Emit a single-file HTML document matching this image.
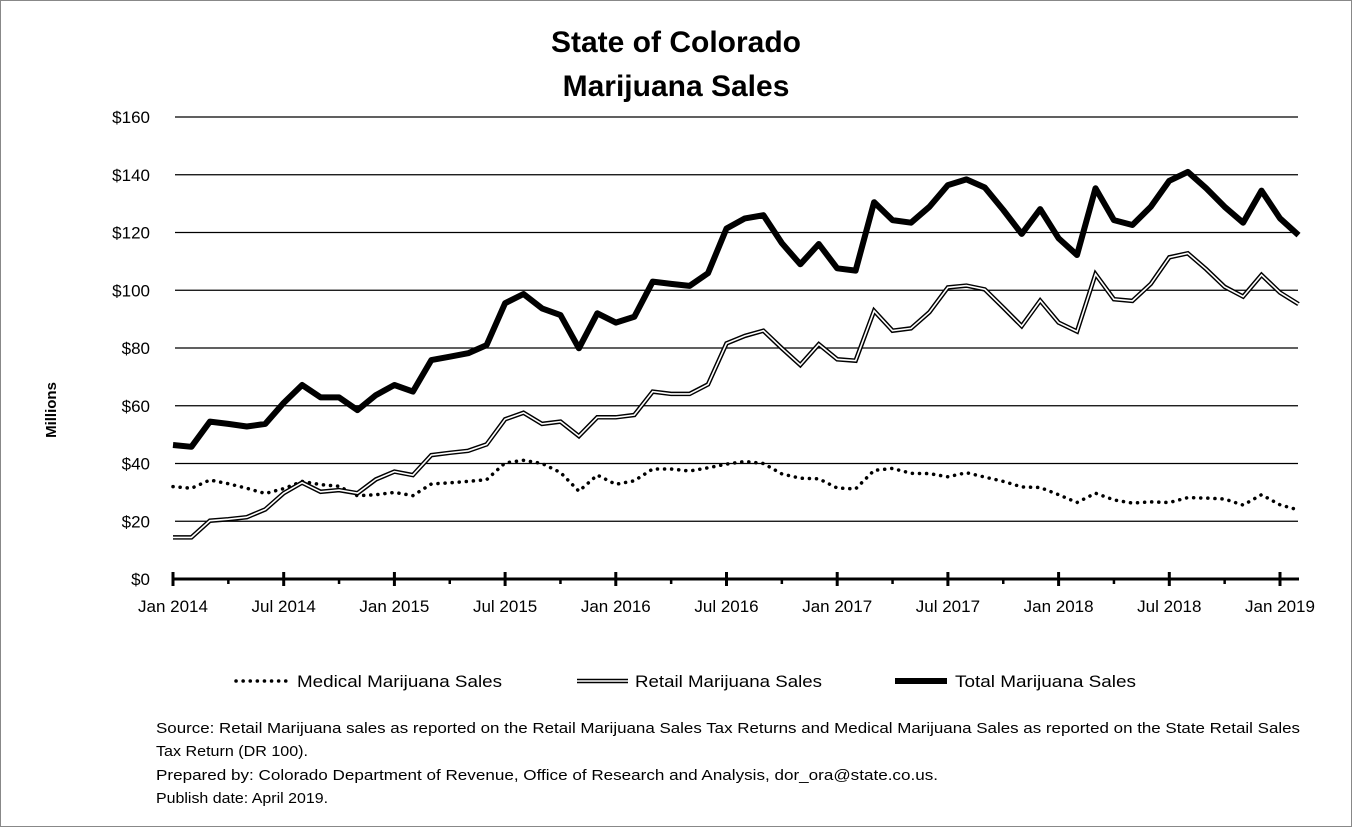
<!DOCTYPE html>
<html><head><meta charset="utf-8"><style>
html,body{margin:0;padding:0;background:#fff}
svg{display:block}
text{font-family:"Liberation Sans",sans-serif;fill:#000}
</style></head><body>
<svg id="c" width="1352" height="827" viewBox="0 0 1352 827" xmlns="http://www.w3.org/2000/svg">
<rect x="0.5" y="0.5" width="1351" height="826" fill="#fff" stroke="#888" stroke-width="1"/>
<text x="676" y="52" font-size="30" font-weight="bold" text-anchor="middle">State of Colorado</text>
<text x="676" y="96" font-size="30" font-weight="bold" text-anchor="middle">Marijuana Sales</text>
<g id="grid" stroke="#000" stroke-width="1.2"></g>
<g id="ylab" font-size="17" text-anchor="end"></g>
<text transform="translate(56,410) rotate(-90)" font-size="15" font-weight="bold" text-anchor="middle">Millions</text>
<g id="ser"></g>
<g id="xlab" font-size="17" text-anchor="middle"></g>
<g font-size="17">
<line x1="236" y1="681" x2="290" y2="681" stroke="#000" stroke-width="3.5" stroke-linecap="round" stroke-dasharray="0.1 7"/>
<text x="297" y="687" textLength="205" lengthAdjust="spacingAndGlyphs">Medical Marijuana Sales</text>
<line x1="577" y1="681" x2="628" y2="681" stroke="#000" stroke-width="4.5"/>
<line x1="577" y1="681" x2="628" y2="681" stroke="#fff" stroke-width="1.6"/>
<text x="635" y="687" textLength="187" lengthAdjust="spacingAndGlyphs">Retail Marijuana Sales</text>
<line x1="895" y1="681" x2="947" y2="681" stroke="#000" stroke-width="6"/>
<text x="955" y="687" textLength="181" lengthAdjust="spacingAndGlyphs">Total Marijuana Sales</text>
</g>
<g font-size="15">
<text x="156" y="733" textLength="1144" lengthAdjust="spacingAndGlyphs">Source: Retail Marijuana sales as reported on the Retail Marijuana Sales Tax Returns and Medical Marijuana Sales as reported on the State Retail Sales</text>
<text x="156" y="756" textLength="152" lengthAdjust="spacingAndGlyphs">Tax Return (DR 100).</text>
<text x="156" y="780" textLength="782" lengthAdjust="spacingAndGlyphs">Prepared by: Colorado Department of Revenue, Office of Research and Analysis, dor_ora@state.co.us.</text>
<text x="156" y="803" textLength="172" lengthAdjust="spacingAndGlyphs">Publish date: April 2019.</text>
</g>
</svg>
<script>
var NS="http://www.w3.org/2000/svg";
function el(p,t,a,txt){var e=document.createElementNS(NS,t);for(var k in a)e.setAttribute(k,a[k]);if(txt!=null)e.textContent=txt;p.appendChild(e);return e;}
var X0=173,DX=18.45,Y0=579,K=2.8875;
function X(i){return X0+DX*i}function Y(v){return Y0-v*K}
var grid=document.getElementById('grid'),yl=document.getElementById('ylab'),xl=document.getElementById('xlab'),ser=document.getElementById('ser');
for(var v=20;v<=160;v+=20){el(grid,'line',{x1:175,x2:1298,y1:Y(v),y2:Y(v)});}
for(var v=0;v<=160;v+=20){el(yl,'text',{x:150,y:Y(v)+6},'$'+v);}
var total=[46.4,45.8,54.5,53.7,52.8,53.7,61,67.2,62.9,62.9,58.5,63.7,67.2,64.9,75.8,77,78.2,81,95.5,98.7,93.7,91.4,79.9,92,88.8,90.8,103,102.2,101.5,105.9,121.4,124.9,126,116.3,109,116,107.6,106.8,130.5,124.3,123.4,128.9,136.4,138.4,135.6,127.8,119.5,128.1,118,112.2,135.3,124.3,122.6,128.9,137.9,141,135.3,128.9,123.4,134.5,124.9,119.1];
var retail=[14.4,14.4,20.2,20.7,21.4,24.1,29.7,33.4,30.2,30.8,29.7,34.5,37.2,36,42.9,43.7,44.4,46.6,55.3,57.6,53.7,54.5,49.5,56,56,56.8,64.9,64.1,64.1,67.4,81.6,84.2,86,79.9,74.1,81.3,76.1,75.6,92.9,86,86.8,92.4,101,101.6,100.3,94,87.6,96.4,88.8,85.7,105.6,96.9,96.3,102.2,111.4,112.8,107.3,101.2,97.8,105.3,99.2,95.2];
function pts(a){return a.map(function(v,i){return X(i).toFixed(1)+','+Y(v).toFixed(1)}).join(' ')}
var med=total.map(function(t,i){return t-retail[i]});
el(ser,'polyline',{points:pts(med),fill:'none',stroke:'#000','stroke-width':3.5,'stroke-linecap':'round','stroke-dasharray':'0.1 7'});
el(ser,'polyline',{points:pts(retail),fill:'none',stroke:'#000','stroke-width':4.5,'stroke-linejoin':'miter'});
el(ser,'polyline',{points:pts(retail),fill:'none',stroke:'#fff','stroke-width':1.6});
el(ser,'polyline',{points:pts(total),fill:'none',stroke:'#000','stroke-width':6,'stroke-linejoin':'round'});
el(ser,'line',{x1:173,x2:1299,y1:579,y2:579,stroke:'#000','stroke-width':3});
var labs=['Jan 2014','Jul 2014','Jan 2015','Jul 2015','Jan 2016','Jul 2016','Jan 2017','Jul 2017','Jan 2018','Jul 2018','Jan 2019'];
for(var m=0;m<=60;m+=3){var x=X(m);if(m%6==0){el(ser,'line',{x1:x,x2:x,y1:572,y2:586,stroke:'#000','stroke-width':3});el(xl,'text',{x:x,y:612},labs[m/6]);}else{el(ser,'line',{x1:x,x2:x,y1:579,y2:584,stroke:'#000','stroke-width':2.5});}}
</script>
</body></html>
